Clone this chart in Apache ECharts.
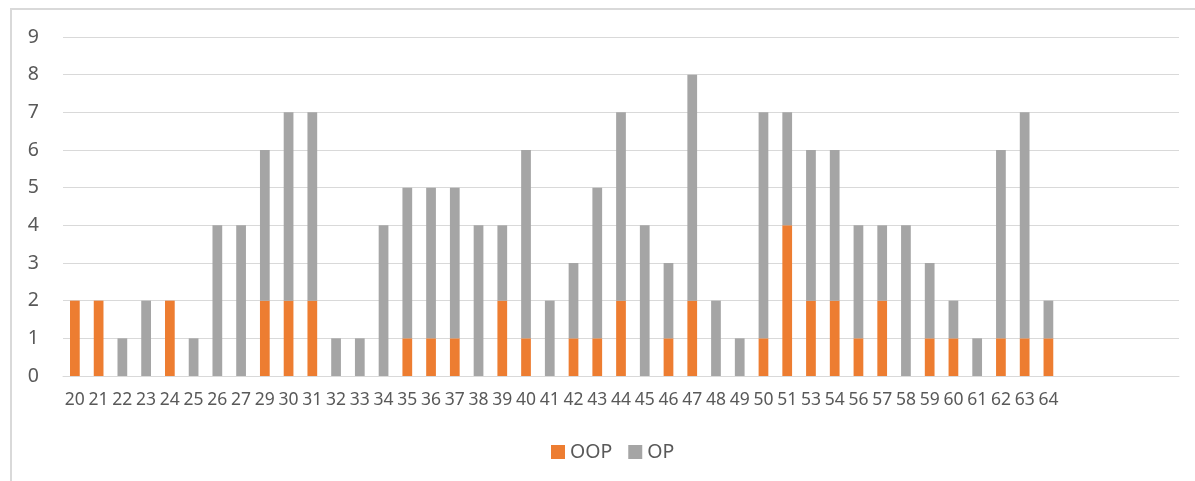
<!DOCTYPE html>
<html>
<head>
<meta charset="utf-8">
<script src="https://cdn.jsdelivr.net/npm/echarts@6/dist/echarts.min.js"></script>
<style>
  html, body { margin: 0; padding: 0; background: #fff; }
  #frame {
    position: absolute; left: 10px; top: 8px; width: 1200px; height: 490px;
    border-left: 2px solid #D9D9D9; border-top: 2px solid #D9D9D9; box-sizing: border-box;
  }
  #chart { position: absolute; left: 0; top: 0; width: 1195px; height: 481px; }
</style>
</head>
<body>
<div id="frame"></div>
<div id="chart"></div>
<script>
// Ages shown on the category axis
const categories = ['20','21','22','23','24','25','26','27','29','30','31','32','33','34','35','36','37','38','39','40',
  '41','42','43','44','45','46','47','48','49','50','51','53','54','56','57','58','59','60','61','62','63','64'];
// Counts per age
const oopValues = [2,2,0,0,2,0,0,0,2,2,2,0,0,0,1,1,1,0,2,1,
  0,1,1,2,0,1,2,0,0,1,4,2,2,1,2,0,1,1,0,1,1,1];
const opValues = [0,0,1,2,0,1,4,4,4,5,5,1,1,4,4,4,4,4,2,5,
  2,2,4,5,4,2,6,2,1,6,3,4,4,3,2,4,2,1,1,5,6,1];
const yTicks = [0,1,2,3,4,5,6,7,8,9];
// unused slots kept at the end of the axis
const trailingSlots = 5;

const axisData = categories.concat(Array(trailingSlots).fill(''));
const font = 'Noto Sans';
const textColor = '#595959';

const chart = echarts.init(document.getElementById('chart'), null, { renderer: 'canvas' });
chart.setOption({
  animation: false,
  textStyle: { fontFamily: font },
  grid: { left: 63, right: 16, top: 37, bottom: 105, containLabel: false },
  legend: {
    data: ['OOP', 'OP'],
    left: 546, top: 437,
    itemWidth: 14, itemHeight: 14, itemGap: 16,
    icon: 'rect',
    textStyle: { color: textColor, fontSize: 19.5, fontFamily: font }
  },
  xAxis: {
    type: 'category',
    data: axisData,
    axisLine: { lineStyle: { color: '#D9D9D9', width: 1 } },
    axisTick: { show: false },
    axisLabel: { interval: 0, color: textColor, fontSize: 17.5, margin: 15, fontFamily: font }
  },
  yAxis: {
    type: 'value',
    min: yTicks[0], max: yTicks[yTicks.length - 1], interval: 1,
    axisLine: { show: false },
    axisTick: { show: false },
    splitLine: { lineStyle: { color: '#D9D9D9', width: 1 } },
    axisLabel: { color: textColor, fontSize: 19.5, margin: 24, fontFamily: font }
  },
  series: [
    { name: 'OOP', type: 'bar', stack: 'total', data: oopValues, barWidth: '41%',
      itemStyle: { color: '#ED7D31' } },
    { name: 'OP', type: 'bar', stack: 'total', data: opValues, barWidth: '41%',
      itemStyle: { color: '#A5A5A5' } }
  ]
});
</script>
</body>
</html>
